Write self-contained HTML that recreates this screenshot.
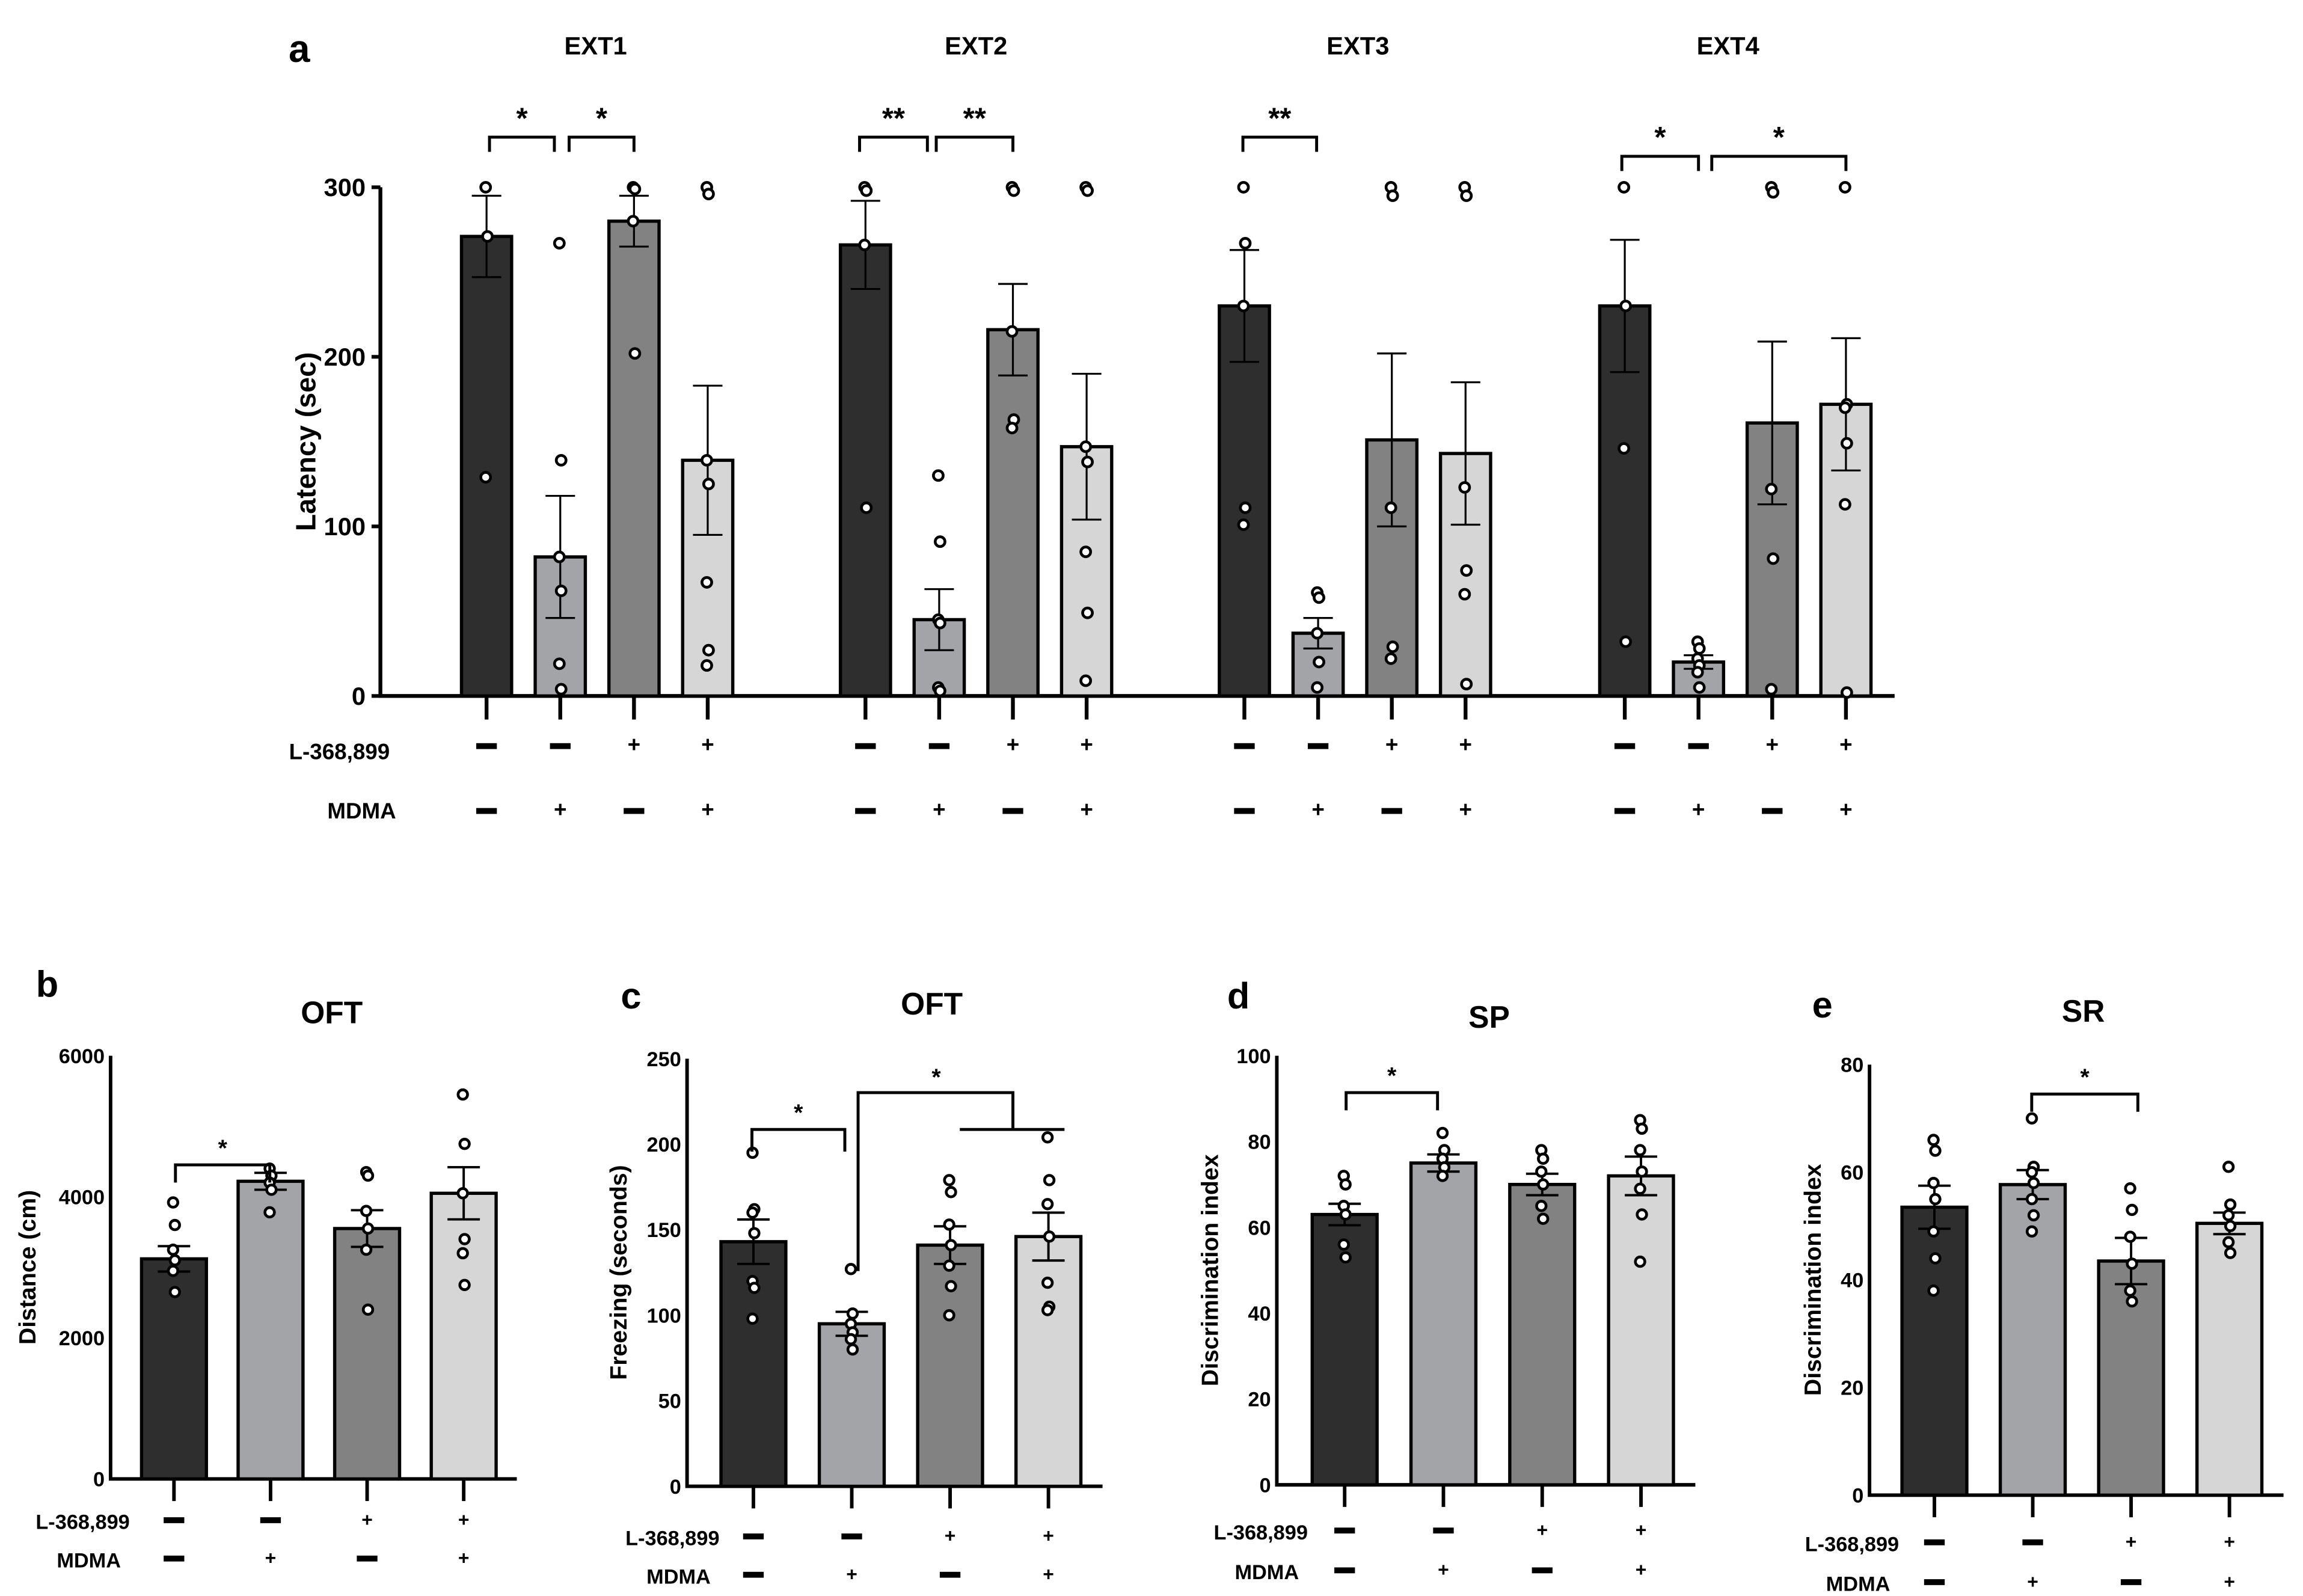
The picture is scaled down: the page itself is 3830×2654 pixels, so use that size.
<!DOCTYPE html>
<html><head><meta charset="utf-8"><style>
html,body{margin:0;padding:0;background:#fff}
svg{display:block}
text{font-family:"Liberation Sans",Arial,sans-serif;font-weight:bold;fill:#000}
</style></head><body>
<svg id="fig" width="3830" height="2654" viewBox="0 0 1562 1082.4" preserveAspectRatio="none" xmlns="http://www.w3.org/2000/svg">
<rect x="0" y="0" width="1562" height="1083" fill="#fff"/>
<g id="root"></g>
</svg>
<script>
// ---------- Panel a data ----------
const aGroups = ["EXT1","EXT2","EXT3","EXT4"];
const aTicks = [0,100,200,300];
const aMeans = [[271,82,280,139],[266,45,216,147],[230,37,151,143],[230,20,161,172]];
const aSems = [[24,36,15,44],[26,18,27,43],[33,9,51,42],[39,4,48,39]];
const aPoints = [
 [[300,271,129],[267,139,82,62,19,4],[300,299,280,202],[300,296,139,125,67,27,18]],
 [[300,298,266,111],[130,91,45,43,5,3],[300,298,215,163,158],[300,298,147,138,85,49,9]],
 [[300,267,230,111,101],[61,58,37,20,5],[300,295,111,29,22],[300,295,123,74,60,7]],
 [[300,230,146,32],[32,28,22,18,14,5],[300,297,122,81,4],[300,172,170,149,113,2]]
];
// ---------- Panels b-e data ----------
const bTicks=[0,2000,4000,6000];
const bMeans=[3120,4220,3550,4050];
const bSems=[180,120,260,370];
const bPoints=[[3920,3600,3250,3100,2950,2650],[4400,4300,4200,4100,3780],[4350,4300,3800,3550,3250,2400],[5450,4750,4050,3400,3200,2750]];
const cTicks=[0,50,100,150,200,250];
const cMeans=[143,95,141,146];
const cSems=[13,7,11,14];
const cPoints=[[195,162,160,148,120,116,98],[127,101,95,90,86,80],[179,172,153,141,129,117,100],[204,179,165,146,119,105,103]];
const dTicks=[0,20,40,60,80,100];
const dMeans=[63,75,70,72];
const dSems=[2.5,2,2.5,4.5];
const dPoints=[[72,70,65,63,56,53],[82,78,76,74,72],[78,76,73,70,65,62],[85,83,78,73,69,63,52]];
const eTicks=[0,20,40,60,80];
const eMeans=[53.5,57.7,43.5,50.5];
const eSems=[4,2.7,4.3,2];
const ePoints=[[66,64,58,55,49,44,38],[70,61,60,58,55,52,49],[57,53,48,43,38,36],[61,54,52,50,47,45]];
const lSigns=["-","-","+","+"];
const mSigns=["-","+","-","+"];
const fills=["#2e2e2e","#a3a4a8","#828282","#d6d6d6"];

const NS="http://www.w3.org/2000/svg";
const root=document.getElementById('root');
function el(tag,attrs,parent){const e=document.createElementNS(NS,tag);for(const k in attrs)e.setAttribute(k,attrs[k]);(parent||root).appendChild(e);return e;}
function txt(s,x,y,size,anchor,parent){const t=el('text',{x:x,y:y,'font-size':size,'text-anchor':anchor||'middle'},parent);t.textContent=s;return t;}

function signs(arr,xs,y,parent,big){
  arr.forEach((s,i)=>{
    if(s==="-"){const r=el('rect',{x:xs[i]-7,y:y-6,width:14,height:4,fill:'#000'},parent);
      
      }
    else{const t=txt('+',xs[i],y,big?15:13,'middle',parent);
      
      }
  });
}

function drawBars(g,xs,means,sems,pts,yS,bw,capW,whW,r){
  means.forEach((m,i)=>{
    const b=el('rect',{x:xs[i]-bw/2,y:yS(m),width:bw,height:yS(0)-yS(m),fill:fills[i],stroke:'#000','stroke-width':2.2},g);
    
    
    const eb=el('path',{d:`M${xs[i]},${yS(m-sems[i])}V${yS(m+sems[i])}M${xs[i]-capW/2},${yS(m+sems[i])}H${xs[i]+capW/2}M${xs[i]-capW/2},${yS(m-sems[i])}H${xs[i]+capW/2}`,stroke:'#000','stroke-width':whW,fill:'none'},g);
    
    
    pts[i].forEach((v,j)=>{
      const c=el('circle',{cx:xs[i]+((j%2)?0.6:-0.6),cy:yS(v),r:r,fill:'#fff',stroke:'#000','stroke-width':1.9},g);
      
      
    });
  });
}

function bracket(g,x1,x2,y,drop,star,size){
  const p=el('path',{d:`M${x1},${y+drop}V${y}H${x2}V${y+drop}`,stroke:'#000','stroke-width':2,fill:'none'},g);
  
  
  const t=txt(star,(x1+x2)/2,y-6,size,'middle',g);
  
  
}

// ---------- Panel a ----------
(function(){
  const g=el('g',{});
  
  
  const y0=472,y1=127,ax=258,axEnd=1285;
  const yS=v=>y0-(v/300)*(y0-y1);
  const gx0=[330,587,844,1102], step=50;
  const titleX=[404,662,921,1172];
  txt('a',203,42,26,'middle',g);
  const yl=txt('Latency (sec)',0,0,19,'middle',g);
  yl.setAttribute('transform',`translate(214,${(y0+y1)/2}) rotate(-90)`);
  
  const ay=el('path',{d:`M${ax},${yS(300)}V${y0}H${axEnd}`,stroke:'#000','stroke-width':2.6,fill:'none'},g);
  
  aTicks.forEach(t=>{
    const l=txt(String(t),ax-10,yS(t)+6,17,'end',g);
    
    el('line',{x1:ax-6,x2:ax,y1:yS(t),y2:yS(t),stroke:'#000','stroke-width':2.5},g);
  });
  txt('L-368,899',196,515,15,'start',g);
  txt('MDMA',222,555,15,'start',g);
  aGroups.forEach((name,k)=>{
    const xs=[0,1,2,3].map(i=>gx0[k]+i*step);
    const t=txt(name,titleX[k],37,17,'middle',g);
    
    drawBars(g,xs,aMeans[k],aSems[k],aPoints[k],yS,34,20,1.3,3.3);
    xs.forEach(x=>el('line',{x1:x,x2:x,y1:y0,y2:y0+16,stroke:'#000','stroke-width':2.6},g));
    signs(lSigns,xs,510,g,true);
    signs(mSigns,xs,554,g,true);
  });
  bracket(g,332,376,93,10,'*',20);
  bracket(g,386,430,93,10,'*',20);
  bracket(g,583,629,93,10,'**',20);
  bracket(g,635,687,93,10,'**',20);
  bracket(g,843,893,93,10,'**',20);
  bracket(g,1100,1152,106,10,'*',20);
  bracket(g,1161,1252,106,10,'*',20);
})();

// ---------- Panels b-e ----------
function small(cfg){
  const g=el('g',{});
  
  
  const {ax,y0,y1,ticks}=cfg;
  const max=ticks[ticks.length-1];
  const yS=v=>y0-(v/max)*(y0-y1);
  const xs=[0,1,2,3].map(i=>cfg.x0+i*cfg.step);
  txt(cfg.id,cfg.lx,cfg.ly,25,'middle',g);
  txt(cfg.title,cfg.tx,cfg.ty,21,'middle',g);
  const yl=txt(cfg.ylab,0,0,16,'middle',g);
  yl.setAttribute('transform',`translate(${cfg.ylx},${(y0+y1)/2}) rotate(-90)`);
  
  const a=el('path',{d:`M${ax},${y1}V${y0}H${xs[3]+cfg.step*0.55}`,stroke:'#000','stroke-width':2.4,fill:'none'},g);
  
  ticks.forEach(t=>{
    const l=txt(String(t),ax-4,yS(t)+5,14,'end',g);
    
  });
  drawBars(g,xs,cfg.means,cfg.sems,cfg.pts,yS,44,22,1.6,3.2);
  xs.forEach(x=>el('line',{x1:x,x2:x,y1:y0,y2:y0+15,stroke:'#000','stroke-width':2.4},g));
  txt('L-368,899',cfg.rx,cfg.r1+6,14,'end',g);
  txt('MDMA',cfg.rx-6,cfg.r2+6,14,'end',g);
  signs(lSigns,xs,cfg.r1+4,g,false);
  signs(mSigns,xs,cfg.r2+4,g,false);
  return {g,xs,yS};
}
(function(){
  const b=small({id:'b',ax:75,y0:1003,y1:716,ticks:bTicks,x0:118,step:65.5,means:bMeans,sems:bSems,pts:bPoints,lx:32,ly:676,title:'OFT',tx:225,ty:694,ylab:'Distance (cm)',ylx:24,rx:88,r1:1031,r2:1057});
  bracket(b.g,119,183,790,12,'*',16);
  const c=small({id:'c',ax:466,y0:1008,y1:718,ticks:cTicks,x0:511,step:66.7,means:cMeans,sems:cSems,pts:cPoints,lx:428,ly:684,title:'OFT',tx:632,ty:688,ylab:'Freezing (seconds)',ylx:425,rx:488,r1:1042,r2:1068});
  bracket(c.g,510,573,766,15,'*',16);
  const p=el('path',{d:'M582,862V741H687V766M651,766H722',stroke:'#000','stroke-width':2,fill:'none'},c.g);
  
  
  txt('*',635,736,16,'middle',c.g);
  const d=small({id:'d',ax:866,y0:1007,y1:716,ticks:dTicks,x0:912,step:67,means:dMeans,sems:dSems,pts:dPoints,lx:840,ly:684,title:'SP',tx:1010,ty:697,ylab:'Discrimination index',ylx:826,rx:887,r1:1038,r2:1065});
  bracket(d.g,913,975,741,12,'*',16);
  const e=small({id:'e',ax:1268,y0:1014,y1:722,ticks:eTicks,x0:1312,step:66.7,means:eMeans,sems:eSems,pts:ePoints,lx:1236,ly:690,title:'SR',tx:1413,ty:693,ylab:'Discrimination index',ylx:1235,rx:1288,r1:1046,r2:1073});
  bracket(e.g,1378,1450,742,12,'*',16);
})();
</script>
</body></html>
